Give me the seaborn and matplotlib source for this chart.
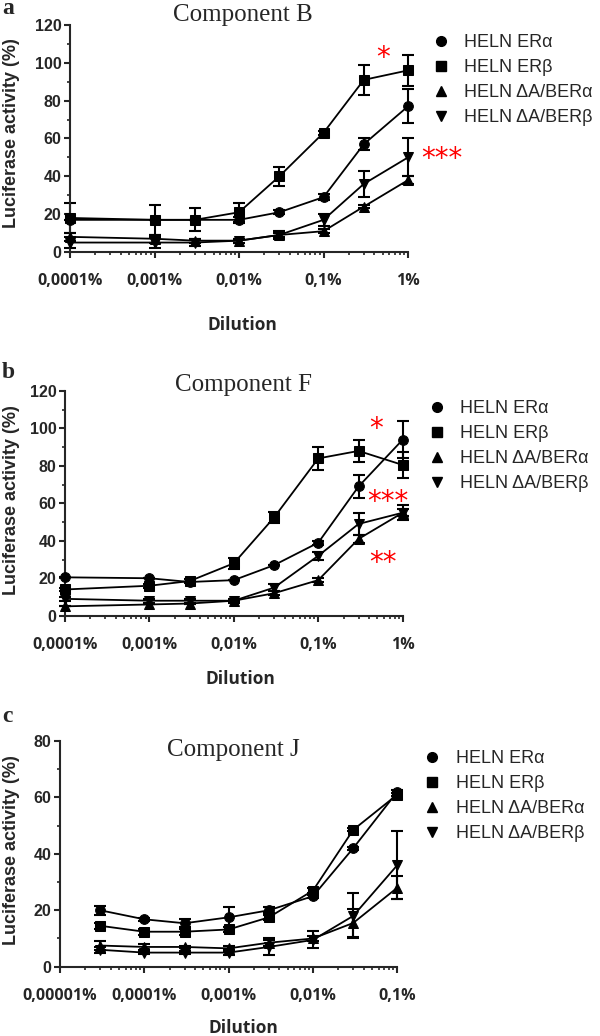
import numpy as np
import pandas as pd
import matplotlib
matplotlib.use('Agg')
import matplotlib.pyplot as plt
import seaborn as sns
from matplotlib.lines import Line2D
from matplotlib.ticker import MultipleLocator, NullFormatter

# ---- data ----
series = ['HELN ERα', 'HELN ERβ', 'HELN ΔA/BERα', 'HELN ΔA/BERβ']
markers = ['o', 's', '^', 'v']

dil_ab = [0.0001, 0.001, 0.003, 0.01, 0.03, 0.1, 0.3, 1]
ticks_ab = [0.0001, 0.001, 0.01, 0.1, 1]
ticklabels_ab = ['0,0001%', '0,001%', '0,01%', '0,1%', '1%']

dil_c = [0.00003, 0.0001, 0.0003, 0.001, 0.003, 0.01, 0.03, 0.1]
ticks_c = [0.00001, 0.0001, 0.001, 0.01, 0.1]
ticklabels_c = ['0,00001%', '0,0001%', '0,001%', '0,01%', '0,1%']

# component B
b_era = [17, 17, 17, 17, 21, 29, 57, 77]
b_erb = [18, 17, 17, 21, 40, 63, 91, 96]
b_da_a = [8, 7, 6, 6, 9, 11, 24, 38]
b_da_b = [5, 5, 5, 6, 9, 17, 36, 50]
b_sd_era = [0, 0, 0, 1.5, 1, 1.5, 3, 9]
b_sd_erb = [8, 8, 6, 5, 5, 1, 8, 8]
b_sd_da_a = [2, 2, 1, 1, 1, 1, 1, 2]
b_sd_da_b = [3, 3, 2, 1, 2, 3, 7, 10]

# component F
f_era = [20.5, 20, 18, 19, 27, 39, 69, 94]
f_erb = [14, 16, 18.5, 28, 52.5, 84, 88, 80.5]
f_da_a = [5, 6, 6.5, 8, 12, 19, 41, 55]
f_da_b = [9, 8, 8, 8, 15, 32, 49, 55]
f_sd_era = [0, 0, 0, 0, 0, 1, 6, 10]
f_sd_erb = [1, 1, 1, 3, 3, 6, 6, 7]
f_sd_da_a = [0, 0, 0, 0, 1, 1, 2, 2]
f_sd_da_b = [1, 1, 1, 1, 2, 2, 6, 4]

# component J
j_era = [20, 16.8, 15.4, 17.5, 20, 25, 42, 62]
j_erb = [14.5, 12.4, 12.4, 13.2, 17.5, 27, 48.5, 61]
j_da_a = [7.5, 7, 7, 6.5, 8.5, 10, 15.5, 28]
j_da_b = [6, 5, 5, 5, 7, 9.5, 18, 36]
j_sd_era = [1.5, 0.5, 1.5, 3.5, 1, 0.5, 0.5, 0.5]
j_sd_erb = [1, 1, 1, 1, 1, 1, 0.5, 0.5]
j_sd_da_a = [1.5, 1, 0.5, 1, 1, 1, 5, 4]
j_sd_da_b = [1, 0.5, 0.5, 1, 3, 3, 8, 12]

W, H = 600, 1036


def fx(x):
    return x / W


def fy(y):
    return 1 - y / H


def make_df(dil, vals, sds):
    rows = []
    for name, v, s in zip(series, vals, sds):
        for d, a, e in zip(dil, v, s):
            rows.append({'dilution': d, 'activity': a, 'sd': e, 'series': name})
    return pd.DataFrame(rows)


sns.set_style('ticks')
plt.rcParams['font.family'] = ['Liberation Sans', 'DejaVu Sans']

fig = plt.figure(figsize=(W / 100, H / 100), dpi=100)

panels = [
    dict(rect=(70, 25, 408, 252), dil=dil_ab, vals=[b_era, b_erb, b_da_a, b_da_b],
         sds=[b_sd_era, b_sd_erb, b_sd_da_a, b_sd_da_b], ymax=120,
         ticks=ticks_ab, labels=ticklabels_ab, xlim=(1e-4, 1),
         title='Component B', title_xy=(243, 15), letter='a', letter_y=9,
         ylab_y=133, dil_xy=(242, 325), leg=(432, 34)),
    dict(rect=(65, 391, 402.7, 615.7), dil=dil_ab, vals=[f_era, f_erb, f_da_a, f_da_b],
         sds=[f_sd_era, f_sd_erb, f_sd_da_a, f_sd_da_b], ymax=120,
         ticks=ticks_ab, labels=ticklabels_ab, xlim=(1e-4, 1),
         title='Component F', title_xy=(243, 385), letter='b', letter_y=372,
         ylab_y=500, dil_xy=(240, 679), leg=(428, 400)),
    dict(rect=(60, 741, 397.3, 966.7), dil=dil_c, vals=[j_era, j_erb, j_da_a, j_da_b],
         sds=[j_sd_era, j_sd_erb, j_sd_da_a, j_sd_da_b], ymax=80,
         ticks=ticks_c, labels=ticklabels_c, xlim=(1e-5, 0.1),
         title='Component J', title_xy=(233, 750), letter='c', letter_y=716,
         ylab_y=850, dil_xy=(243, 1028), leg=(423, 750)),
]

for p in panels:
    x0, y0, x1, y1 = p['rect']
    ax = fig.add_axes([fx(x0), fy(y1), (x1 - x0) / W, (y1 - y0) / H])
    df = make_df(p['dil'], p['vals'], p['sds'])
    sns.lineplot(data=df, x='dilution', y='activity', hue='series', style='series',
                 markers=dict(zip(series, markers)), dashes=False,
                 palette=dict(zip(series, ['black'] * 4)), markersize=7,
                 markeredgecolor='black', linewidth=1.3, errorbar=None,
                 legend=False, ax=ax, clip_on=False, zorder=3)
    for name in series:
        sub = df[df['series'] == name]
        ax.errorbar(sub['dilution'], sub['activity'], yerr=sub['sd'], fmt='none',
                    ecolor='black', elinewidth=1.5, capsize=4, capthick=1.5,
                    clip_on=False, zorder=2)
    ax.set_xscale('log')
    ax.set_xlim(*p['xlim'])
    ax.set_ylim(0, p['ymax'])
    ax.set_xticks(p['ticks'])
    ax.set_xticklabels(p['labels'], fontfamily='Open Sans', fontweight='bold', fontsize=11.5)
    ax.xaxis.set_minor_formatter(NullFormatter())
    ax.yaxis.set_major_locator(MultipleLocator(20))
    ax.yaxis.set_minor_locator(MultipleLocator(10))
    for lab in ax.get_yticklabels():
        lab.set_fontweight('bold')
        lab.set_fontsize(11.5)
    sns.despine(ax=ax)
    for s in ['left', 'bottom']:
        ax.spines[s].set_linewidth(1.5)
    ax.tick_params(axis='both', which='major', length=4.5, width=1.5)
    ax.tick_params(axis='both', which='minor', length=2.5, width=1.2)
    ax.tick_params(axis='x', which='major', pad=10.5)
    ax.tick_params(axis='y', which='major', pad=1.5)
    ax.set_xlabel('')
    ax.set_ylabel('')

    fig.text(fx(12), fy(p['ylab_y']), 'Luciferase activity (%)', rotation=90,
             ha='center', va='center', fontsize=13, fontweight='bold')
    fig.text(fx(p['dil_xy'][0]), fy(p['dil_xy'][1]), 'Dilution', ha='center',
             va='center', fontsize=12.5, fontweight='bold', family='Open Sans')
    fig.text(fx(p['title_xy'][0]), fy(p['title_xy'][1]), p['title'], ha='center',
             va='center', fontsize=18, family='Liberation Serif')
    fig.text(fx(2), fy(p['letter_y']), p['letter'], ha='left', va='center',
             fontsize=17, fontweight='bold', family='Liberation Serif')

    handles = [Line2D([], [], linestyle='none', marker=m, color='black',
                      markersize=7) for m in markers]
    fig.legend(handles, series, loc='upper left',
               bbox_to_anchor=(fx(p['leg'][0]), fy(p['leg'][1])), frameon=False,
               fontsize=13, handlelength=1, handletextpad=0.8, labelspacing=0.45,
               borderpad=0, borderaxespad=0)

# significance stars
stars = [('*', 383, 58), ('***', 442, 159), ('*', 376, 429), ('***', 388, 502), ('**', 383, 563)]
for s, x, y in stars:
    fig.text(fx(x), fy(y), s, color='red', ha='center', va='center', fontsize=20,
             family='DejaVu Sans')

plt.savefig('out.png', dpi=100)
